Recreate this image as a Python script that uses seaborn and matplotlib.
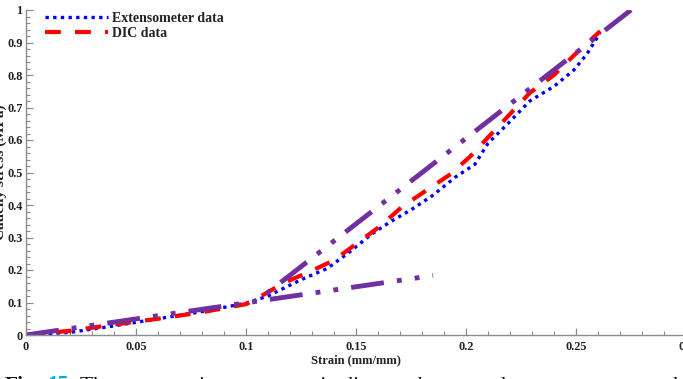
import matplotlib
matplotlib.use("Agg")
import matplotlib.pyplot as plt
import seaborn as sns
import pandas as pd
from matplotlib.ticker import MultipleLocator, FuncFormatter

# ---- data ----
strain_ext = [0, 0.02, 0.04, 0.06, 0.08, 0.10, 0.11, 0.125, 0.137, 0.147, 0.157, 0.166,
              0.175, 0.185, 0.195, 0.204, 0.21, 0.219, 0.229, 0.24, 0.249, 0.255, 0.261]
stress_ext = [0, 0.008, 0.028, 0.05, 0.072, 0.098, 0.12, 0.17, 0.205, 0.255, 0.31, 0.35,
              0.385, 0.43, 0.485, 0.525, 0.59, 0.65, 0.72, 0.765, 0.815, 0.865, 0.93]

strain_dic = [0, 0.02, 0.04, 0.06, 0.08, 0.10, 0.105, 0.117, 0.129, 0.14, 0.15, 0.161,
              0.171, 0.182, 0.193, 0.202, 0.211, 0.22, 0.229, 0.24, 0.249, 0.261]
stress_dic = [0, 0.013, 0.032, 0.05, 0.07, 0.095, 0.112, 0.16, 0.195, 0.23, 0.28, 0.335,
              0.395, 0.445, 0.495, 0.55, 0.615, 0.68, 0.745, 0.80, 0.86, 0.935]

strain_fit1 = [0, 0.185]
stress_fit1 = [0, 0.183]
strain_fit2 = [0.105, 0.275]
stress_fit2 = [0.105, 1.0]

xticks = [0, 0.05, 0.1, 0.15, 0.2, 0.25, 0.3]
yticks = [0, 0.1, 0.2, 0.3, 0.4, 0.5, 0.6, 0.7, 0.8, 0.9, 1]
labels = ["Extensometer data", "DIC data"]

sns.set_theme(style="white")
plt.rcParams["font.family"] = ["Liberation Serif", "DejaVu Serif"]

W, H = 683, 379
fig = plt.figure(figsize=(W / 100, H / 100), dpi=100)
ax = fig.add_axes([26 / W, 1 - 335 / H, 660 / W, 325 / H])

BLUE = "#0000ff"
RED = "#ff0000"
PURPLE = "#7030a0"

df_ext = pd.DataFrame({"strain": strain_ext, "stress": stress_ext})
df_dic = pd.DataFrame({"strain": strain_dic, "stress": stress_dic})
df_f1 = pd.DataFrame({"strain": strain_fit1, "stress": stress_fit1})
# drawn from the upper end downwards so the dash pattern starts at the top
df_f2 = pd.DataFrame({"strain": strain_fit2, "stress": stress_fit2}).iloc[::-1]

sns.lineplot(data=df_ext, x="strain", y="stress", ax=ax, color=BLUE, linewidth=2.4,
             linestyle=(0, (1.0, 1.3)))
sns.lineplot(data=df_dic, x="strain", y="stress", ax=ax, color=RED, linewidth=3.0,
             linestyle=(0, (3.8, 3.4)))
dashdotdot = (0, (6.8, 2.7, 1.0, 2.7, 1.0, 2.7))
sns.lineplot(data=df_f1, x="strain", y="stress", ax=ax, color=PURPLE, linewidth=3.5,
             linestyle=dashdotdot)
sns.lineplot(data=df_f2, x="strain", y="stress", ax=ax, color=PURPLE, linewidth=3.5,
             linestyle=dashdotdot, sort=False)

ax.set_xlim(0, 0.3)
ax.set_ylim(0, 1)
ax.set_xticks(xticks)
ax.set_yticks(yticks)
fmt = FuncFormatter(lambda v, p: ("%g" % round(v, 3)))
ax.xaxis.set_major_formatter(fmt)
ax.yaxis.set_major_formatter(fmt)
ax.xaxis.set_minor_locator(MultipleLocator(0.01))
ax.yaxis.set_minor_locator(MultipleLocator(0.02))

for s in ["top", "right"]:
    ax.spines[s].set_visible(False)
for s in ["left", "bottom"]:
    ax.spines[s].set_color("#8c8c8c")
    ax.spines[s].set_linewidth(1.0)

tick_col = "#8c8c8c"
ax.tick_params(axis="both", which="major", direction="in", length=5, width=0.9,
               color=tick_col, labelsize=8.8, labelcolor="#222222")
ax.tick_params(axis="both", which="minor", direction="in", length=3, width=0.8,
               color=tick_col)
ax.tick_params(axis="y", which="major", pad=2.5)
ax.tick_params(axis="x", which="major", pad=4.5)
ax.tick_params(left=True, bottom=True, which="both")
for lab in ax.get_xticklabels() + ax.get_yticklabels():
    lab.set_fontweight("bold")

ax.set_xlabel("Strain (mm/mm)", fontsize=9, fontweight="bold", color="#222222", labelpad=1)
ax.set_ylabel("Cauchy stress (MPa)", fontsize=11, fontweight="bold", color="#222222")
ax.yaxis.set_label_coords((7 - 26) / 660, 0.5)

lines = ax.get_lines()
handles = [lines[0], lines[1]]
leg = ax.legend(handles, labels, loc="upper left",
                bbox_to_anchor=((45 - 26) / 660, 1 - 2 / 325),
                frameon=False, borderpad=0, borderaxespad=0,
                handlelength=4.5, handletextpad=0.35, labelspacing=0.15,
                prop={"family": "Liberation Serif", "weight": "bold", "size": 10})
for t in leg.get_texts():
    t.set_color("#222222")

# caption (cut at bottom edge in the reference)
yb = 1 - 390.5 / H
fig.text(5 / W, yb, "Fig.", fontsize=15.5, fontweight="bold", color="#111111", va="baseline")
fig.text(47 / W, yb, "15.", fontsize=15.5, fontweight="bold", color="#00a6e6", va="baseline")
fig.text(80 / W, yb, "The comparative stress\u2013strain diagram between the extensometer and",
         fontsize=15.5, color="#111111", va="baseline")

fig.savefig("out.png", dpi=100)
